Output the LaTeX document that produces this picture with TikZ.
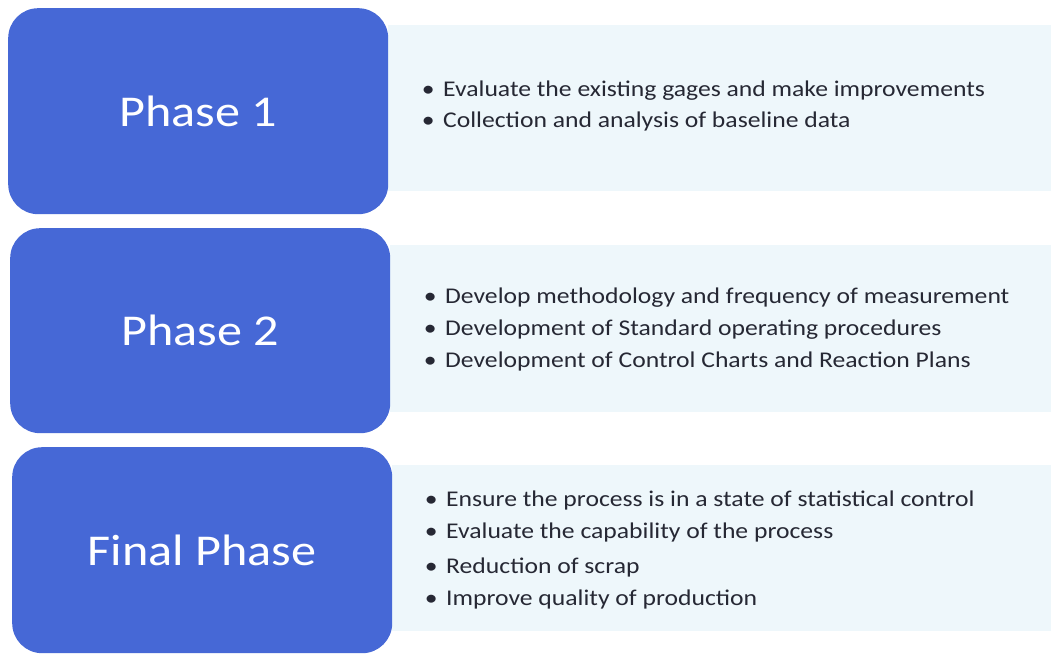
\documentclass[tikz,border=0pt]{standalone}
\usepackage{fontspec}
\setmainfont{Carlito}
\newfontfamily\bodyfont[FakeStretch=1.14]{Carlito}
\definecolor{phaseblue}{RGB}{70,104,214}
\definecolor{panelbg}{RGB}{238,247,251}
\definecolor{itemtext}{RGB}{38,40,52}
\begin{document}
\begin{tikzpicture}[x=1bp,y=-1bp,
  phasebox/.style={fill=phaseblue, draw=none, rounded corners=30bp, anchor=north west, inner sep=0pt,
    text=white, font=\bodyfont\fontsize{44bp}{50bp}\selectfont},
  panel/.style={fill=panelbg, draw=none, anchor=north west, inner sep=0pt},
  item/.style={anchor=base west, inner sep=0pt, text=itemtext,
    font=\bodyfont\fontsize{22.5bp}{31bp}\selectfont}]
\newcommand\bul{\llap{\makebox[0pt]{•}\hspace{15bp}}}
\useasboundingbox (0,0) rectangle (1051,655);
\fill[white] (0,0) rectangle (1051,655);

% light panels behind the bullet lists
\node[panel, minimum width=663bp, minimum height=166bp] (pan1) at (388,25) {};
\node[panel, minimum width=661bp, minimum height=167bp] (pan2) at (390,245) {};
\node[panel, minimum width=659bp, minimum height=166bp] (pan3) at (392,465) {};

% phase boxes
\node[phasebox, minimum width=380bp, minimum height=206bp] (ph1) at (8,8) {};
\node[phasebox, minimum width=380bp, minimum height=205bp] (ph2) at (10,228) {};
\node[phasebox, minimum width=380bp, minimum height=206bp] (ph3) at (12,447) {};
\node[text=white, font=\bodyfont\fontsize{44bp}{50bp}\selectfont, inner sep=0pt] (t1) at (ph1.center) {Phase 1};
\node[text=white, font=\bodyfont\fontsize{44bp}{50bp}\selectfont, inner sep=0pt] (t2) at (ph2.center) {Phase 2};
\node[text=white, font=\bodyfont\fontsize{44bp}{50bp}\selectfont, inner sep=0pt] (t3) at (ph3.center) {Final Phase};

% phase 1 items
\node[item] (a1) at (443,97) {\bul Evaluate the existing gages and make improvements};
\node[item] (a2) at (443,128) {\bul Collection and analysis of baseline data};

% phase 2 items
\node[item] (b1) at (445,303) {\bul Develop methodology and frequency of measurement};
\node[item] (b2) at (445,335) {\bul Development of Standard operating procedures};
\node[item] (b3) at (445,367) {\bul Development of Control Charts and Reaction Plans};

% final phase items
\node[item] (c1) at (446,506) {\bul Ensure the process is in a state of statistical control};
\node[item] (c2) at (446,538) {\bul Evaluate the capability of the process};
\node[item] (c3) at (446,573) {\bul Reduction of scrap};
\node[item] (c4) at (446,605) {\bul Improve quality of production};
\end{tikzpicture}
\end{document}
